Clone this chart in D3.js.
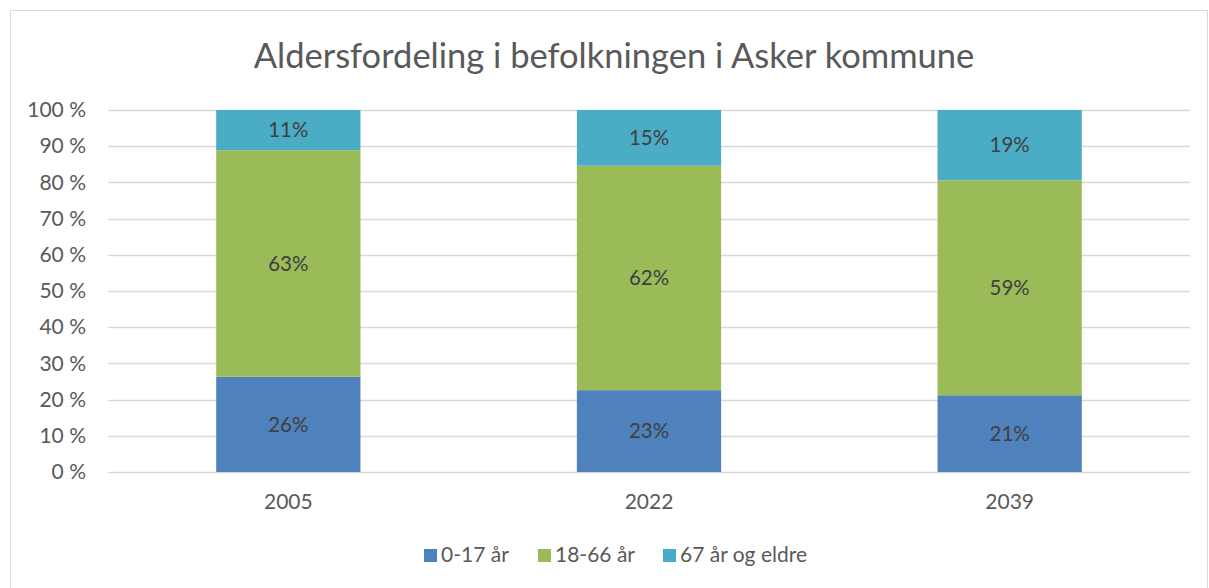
<!DOCTYPE html>
<html>
<head>
<meta charset="utf-8">
<script src="https://cdn.jsdelivr.net/npm/d3@7"></script>
<style>
  body { margin: 0; background: #fff; }
  text { font-family: Lato, "Open Sans", sans-serif; }
</style>
</head>
<body>
<div id="chart"></div>
<script>
const years = ["2005", "2022", "2039"];
const groups = ["0-17 år", "18-66 år", "67 år og eldre"];
const young = [0.263, 0.226, 0.212];
const adult = [0.626, 0.620, 0.594];
const old = [0.111, 0.154, 0.194];
const colors = ["#4F81BD", "#9BBB59", "#4BACC6"];
const yTicks = [0, 0.1, 0.2, 0.3, 0.4, 0.5, 0.6, 0.7, 0.8, 0.9, 1];

const width = 1209, height = 588;
const margin = { top: 110, right: 19, bottom: 116, left: 108 };

const svg = d3.select("#chart")
  .append("svg")
  .attr("width", width)
  .attr("height", height);

// chart border
svg.append("rect")
  .attr("x", 10.5)
  .attr("y", 10.5)
  .attr("width", width - 12)
  .attr("height", height - 10)
  .attr("fill", "#fff")
  .attr("stroke", "#d9d9d9");

svg.append("text")
  .attr("x", 614)
  .attr("y", 68)
  .attr("text-anchor", "middle")
  .attr("font-size", 34.5)
  .attr("fill", "#595959")
  .text("Aldersfordeling i befolkningen i Asker kommune");

const x = d3.scaleBand()
  .domain(years)
  .range([margin.left, width - margin.right])
  .paddingInner(0.6)
  .paddingOuter(0.3);

const y = d3.scaleLinear()
  .domain([0, 1])
  .range([height - margin.bottom, margin.top]);

// gridlines
svg.append("g")
  .selectAll("line")
  .data(yTicks)
  .enter()
  .append("line")
  .attr("x1", margin.left)
  .attr("x2", width - margin.right)
  .attr("y1", d => Math.round(y(d)) + 0.5)
  .attr("y2", d => Math.round(y(d)) + 0.5)
  .attr("stroke", "#d9d9d9")
  .attr("stroke-width", 1.5);

// y axis labels
const yAxis = svg.append("g")
  .attr("transform", `translate(${margin.left - 22},0)`)
  .call(d3.axisLeft(y).tickValues(yTicks).tickSize(0).tickPadding(0)
    .tickFormat(d => Math.round(d * 100) + " %"));
yAxis.select(".domain").remove();
yAxis.selectAll("text")
  .attr("font-size", 21)
  .attr("fill", "#595959")
  .style("font-family", "Lato, 'Open Sans', sans-serif");

// x axis labels
const xAxis = svg.append("g")
  .attr("transform", `translate(0,${height - margin.bottom + 20})`)
  .call(d3.axisBottom(x).tickSize(0).tickPadding(0));
xAxis.select(".domain").remove();
xAxis.selectAll("text")
  .attr("font-size", 21)
  .attr("fill", "#595959")
  .attr("dy", "0.8em")
  .style("font-family", "Lato, 'Open Sans', sans-serif");

const rows = years.map((yr, i) => ({ year: yr, g0: young[i], g1: adult[i], g2: old[i] }));
const series = d3.stack().keys(["g0", "g1", "g2"])(rows);
const fmt = d3.format(".0%");

const layer = svg.append("g")
  .selectAll("g")
  .data(series)
  .enter()
  .append("g")
  .attr("fill", (d, i) => colors[i]);

layer.selectAll("rect")
  .data(d => d)
  .enter()
  .append("rect")
  .attr("x", d => x(d.data.year))
  .attr("width", x.bandwidth())
  .attr("y", d => y(d[1]))
  .attr("height", d => y(d[0]) - y(d[1]));

layer.selectAll("text")
  .data(d => d)
  .enter()
  .append("text")
  .attr("x", d => x(d.data.year) + x.bandwidth() / 2)
  .attr("y", d => (y(d[0]) + y(d[1])) / 2)
  .attr("dy", "0.35em")
  .attr("text-anchor", "middle")
  .attr("font-size", 20.5)
  .attr("fill", "#404040")
  .text(d => fmt(d[1] - d[0]));

// legend
const legendX = [424, 538, 663];
const legend = svg.append("g")
  .selectAll("g")
  .data(groups)
  .enter()
  .append("g")
  .attr("transform", (d, i) => `translate(${legendX[i]},555)`);

legend.append("rect")
  .attr("x", 0)
  .attr("y", -6)
  .attr("width", 13)
  .attr("height", 13)
  .attr("fill", (d, i) => colors[i]);

legend.append("text")
  .attr("x", 17)
  .attr("y", 0)
  .attr("dy", "0.35em")
  .attr("font-size", 21)
  .attr("fill", "#595959")
  .text(d => d);
</script>
</body>
</html>
